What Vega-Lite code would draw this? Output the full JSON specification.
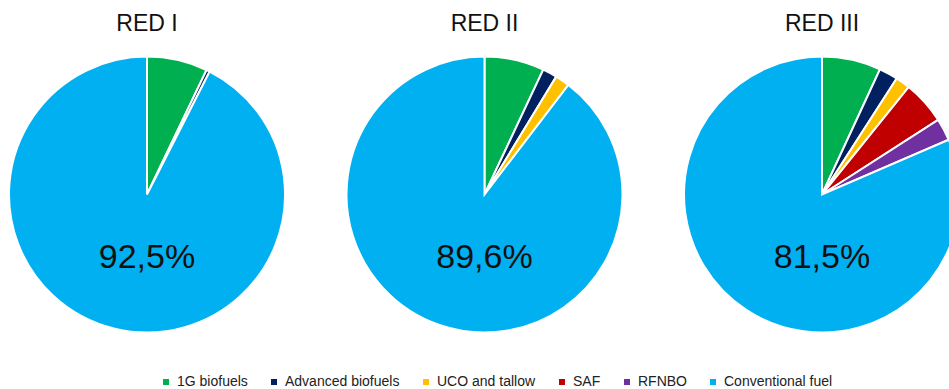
{
  "$schema": "https://vega.github.io/schema/vega-lite/v6.json",
  "width": 949,
  "height": 389,
  "autosize": {"type": "fit", "contains": "padding"},
  "padding": 0,
  "background": "white",
  "config": {"view": {"stroke": null}, "font": "Liberation Sans"},
  "datasets": {
    "shares": [
      {"chart": "RED I", "cat": "1G biofuels", "o": 1, "v": 7.1},
      {"chart": "RED I", "cat": "Advanced biofuels", "o": 2, "v": 0.4},
      {"chart": "RED I", "cat": "Conventional fuel", "o": 6, "v": 92.5},
      {"chart": "RED II", "cat": "1G biofuels", "o": 1, "v": 7.0},
      {"chart": "RED II", "cat": "Advanced biofuels", "o": 2, "v": 1.7},
      {"chart": "RED II", "cat": "UCO and tallow", "o": 3, "v": 1.7},
      {"chart": "RED II", "cat": "Conventional fuel", "o": 6, "v": 89.6},
      {"chart": "RED III", "cat": "1G biofuels", "o": 1, "v": 6.9},
      {"chart": "RED III", "cat": "Advanced biofuels", "o": 2, "v": 2.2},
      {"chart": "RED III", "cat": "UCO and tallow", "o": 3, "v": 1.7},
      {"chart": "RED III", "cat": "SAF", "o": 4, "v": 5.1},
      {"chart": "RED III", "cat": "RFNBO", "o": 5, "v": 2.6},
      {"chart": "RED III", "cat": "Conventional fuel", "o": 6, "v": 81.5}
    ],
    "labels": [
      {"chart": "RED I", "label": "92,5%"},
      {"chart": "RED II", "label": "89,6%"},
      {"chart": "RED III", "label": "81,5%"}
    ]
  },
  "layer": [
    {
      "data": {"name": "shares"},
      "transform": [
        {"stack": "v", "groupby": ["chart"], "sort": [{"field": "o", "order": "ascending"}], "as": ["s0", "s1"]}
      ],
      "mark": {"type": "arc", "radius": 138, "stroke": "white", "strokeWidth": 2},
      "encoding": {
        "x": {"field": "chart", "type": "nominal", "scale": {"type": "point", "domain": ["RED I", "RED II", "RED III"], "range": [147, 822], "padding": 0}, "axis": null},
        "theta": {"field": "s0", "type": "quantitative", "scale": {"domain": [0, 100]}},
        "theta2": {"field": "s1"},
        "color": {
          "field": "cat",
          "type": "nominal",
          "scale": {
            "domain": ["1G biofuels", "Advanced biofuels", "UCO and tallow", "SAF", "RFNBO", "Conventional fuel"],
            "range": ["#00B050", "#002060", "#FFC000", "#C00000", "#7030A0", "#00B0F0"]
          },
          "legend": {
            "orient": "none",
            "legendX": 159,
            "legendY": 375,
            "direction": "horizontal",
            "columns": 6,
            "title": null,
            "symbolType": "square",
            "symbolSize": 36,
            "symbolStrokeWidth": 0,
            "labelFontSize": 14,
            "labelFont": "Liberation Sans",
            "labelColor": "#222222",
            "columnPadding": 19,
            "labelOffset": 4
          }
        }
      }
    },
    {
      "data": {"name": "labels"},
      "mark": {"type": "text", "fontSize": 34, "dy": 63, "color": "#111111", "font": "Liberation Sans"},
      "encoding": {
        "x": {"field": "chart", "type": "nominal"},
        "text": {"field": "label"}
      }
    },
    {
      "data": {"name": "labels"},
      "mark": {"type": "text", "fontSize": 23, "dy": -171, "color": "#111111", "font": "Liberation Sans"},
      "encoding": {
        "x": {"field": "chart", "type": "nominal"},
        "text": {"field": "chart"}
      }
    }
  ]
}
